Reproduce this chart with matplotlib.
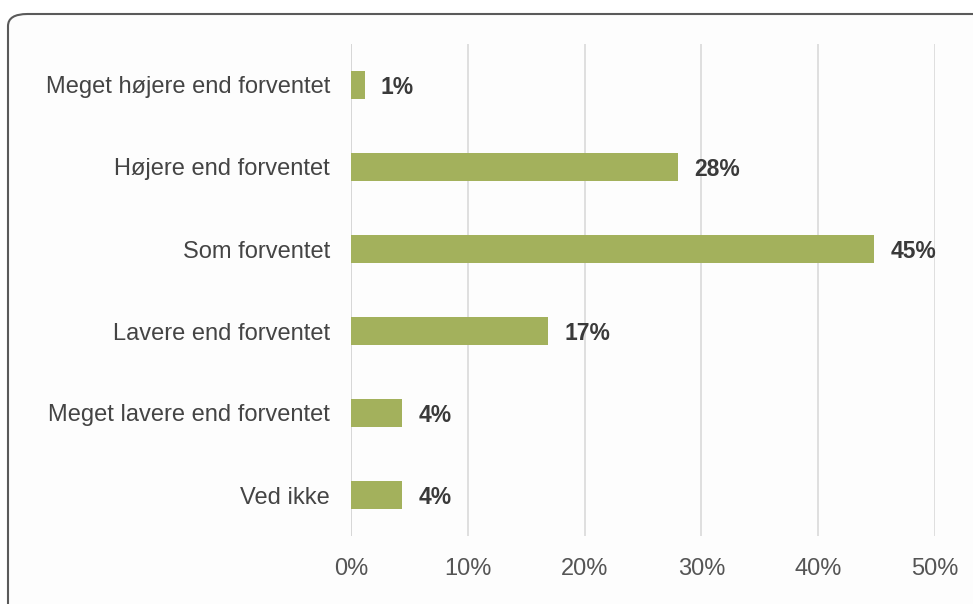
import matplotlib

matplotlib.use("Agg")
import matplotlib.pyplot as plt
from matplotlib.patches import FancyBboxPatch

plt.rcParams["font.family"] = ["Liberation Sans", "DejaVu Sans"]

# answers, top to bottom
categories = [
    "Meget højere end forventet",
    "Højere end forventet",
    "Som forventet",
    "Lavere end forventet",
    "Meget lavere end forventet",
    "Ved ikke",
]
shares = [1.2, 28.0, 44.8, 16.9, 4.4, 4.4]
share_labels = ["1%", "28%", "45%", "17%", "4%", "4%"]
xticks = [0, 10, 20, 30, 40, 50]
xtick_labels = ["0%", "10%", "20%", "30%", "40%", "50%"]

W, H = 973, 604
fig = plt.figure(figsize=(W / 100, H / 100), dpi=100)

# rounded frame, running off the right and bottom edges
frame = FancyBboxPatch(
    (8 / W, -0.2), 1.2, (H - 14) / H + 0.2,
    boxstyle="round,pad=0,rounding_size=0.02",
    transform=fig.transFigure, facecolor="#fdfdfd",
    edgecolor="#5a5a5a", linewidth=1.5, zorder=-1,
)
fig.patches.append(frame)

ax = fig.add_axes([351 / W, (H - 536) / H, (935 - 351) / W, (536 - 44) / H])
ax.set_facecolor("none")

ypos = list(range(len(categories)))
ax.barh(ypos, shares, height=0.34, color="#a3b15c", zorder=2)
for y, v, lab in zip(ypos, shares, share_labels):
    ax.annotate(lab, (v, y), xytext=(11.5, -1.5), textcoords="offset points",
                va="center", ha="left", fontsize=16.5, fontweight="bold",
                color="#3a3a3a")

ax.set_ylim(len(categories) - 0.5, -0.5)
ax.set_xlim(0, 50)
ax.set_yticks(ypos)
ax.set_yticklabels(categories, fontsize=17, color="#444444")
ax.set_xticks(xticks)
ax.set_xticklabels(xtick_labels, fontsize=17, color="#555555")
ax.tick_params(axis="y", length=0, pad=15)
ax.tick_params(axis="x", length=0, pad=16)
ax.grid(axis="x", color="#d9d9d9", linewidth=1.2, zorder=0)
for s in ax.spines.values():
    s.set_visible(False)
ax.axvline(0, color="#c8c8c8", linewidth=1.2, zorder=1)

fig.savefig("out.png", dpi=100)
